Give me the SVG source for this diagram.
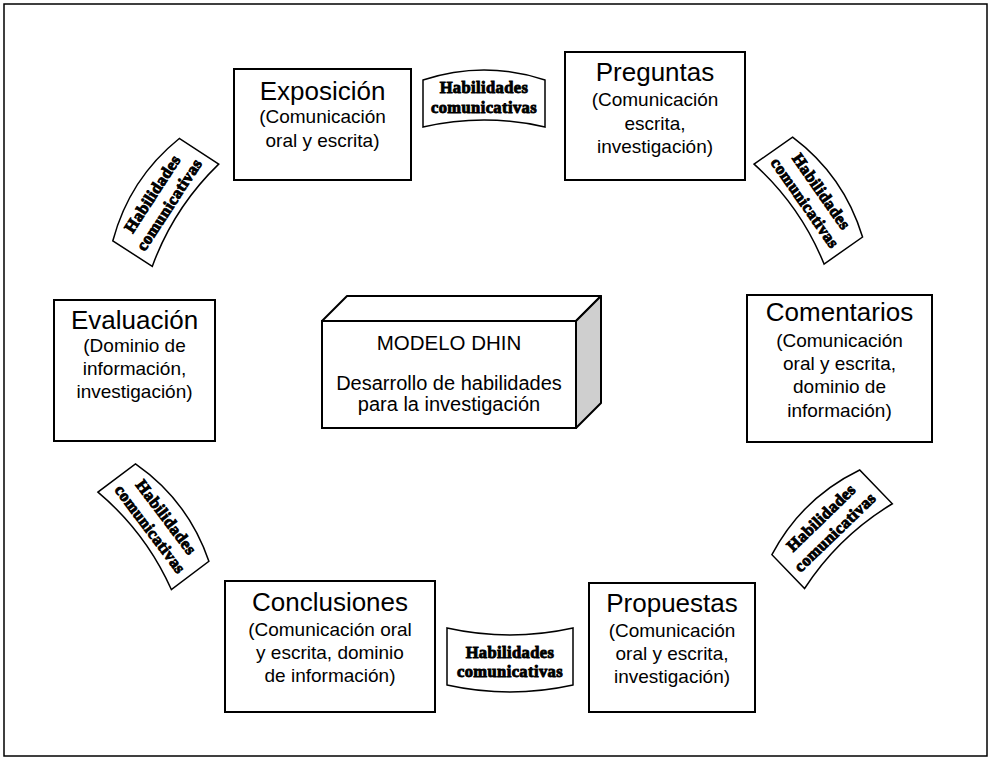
<svg xmlns="http://www.w3.org/2000/svg" width="991" height="760" viewBox="0 0 991 760">
<style>
.frame{fill:#fff;stroke:#000;stroke-width:1.5}
.box{fill:#fff;stroke:#000;stroke-width:2}
.t{font-family:"Liberation Sans",Arial,sans-serif;text-anchor:middle;fill:#000}
.title{font-size:26px}
.sub{font-size:19px}
.ban{fill:#fff;stroke:#000;stroke-width:1.5}
.bt{font-family:"Liberation Serif","Times New Roman",serif;font-weight:bold;font-size:16.5px;text-anchor:middle;fill:#000;stroke:#000;stroke-width:0.9;letter-spacing:0.4px}
</style>
<defs>
<path id="wave" d="M -61,-19 Q 0,-39 61,-19 L 61,28 Q 0,14 -61,28 Z"/>
</defs>
<rect class="frame" x="4" y="4" width="983" height="752"/>

<g id="links">
  <g id="banner-top" transform="translate(484,99)">
    <use href="#wave" class="ban"/>
    <text class="bt" y="-6">Habilidades</text>
    <text class="bt" y="14">comunicativas</text>
  </g>
  <g id="banner-left-top" transform="translate(162,200) rotate(-57)">
    <use href="#wave" class="ban"/>
    <text class="bt" y="-6">Habilidades</text>
    <text class="bt" y="14">comunicativas</text>
  </g>
  <g id="banner-right-top" transform="translate(812,198) rotate(55)">
    <use href="#wave" class="ban"/>
    <text class="bt" y="-6">Habilidades</text>
    <text class="bt" y="14">comunicativas</text>
  </g>
  <g id="banner-left-bottom" transform="translate(157,524) rotate(53)">
    <use href="#wave" class="ban"/>
    <text class="bt" y="-6">Habilidades</text>
    <text class="bt" y="14">comunicativas</text>
  </g>
  <g id="banner-right-bottom" transform="translate(829,526) rotate(-44)">
    <use href="#wave" class="ban"/>
    <text class="bt" y="-6">Habilidades</text>
    <text class="bt" y="14">comunicativas</text>
  </g>
  <g id="banner-bottom" transform="translate(510,658)">
    <path class="ban" d="M -63,-30 Q 0,-16 63,-30 L 63,27 Q 0,41 -63,27 Z"/>
    <text class="bt" y="0">Habilidades</text>
    <text class="bt" y="19">comunicativas</text>
  </g>
</g>

<g id="exposicion">
  <rect class="box" x="234" y="69" width="177" height="111"/>
  <text class="t title" x="322.5" y="100">Exposición</text>
  <text class="t sub" x="322.5" y="123">(Comunicación</text>
  <text class="t sub" x="322.5" y="147">oral y escrita)</text>
</g>

<g id="preguntas">
  <rect class="box" x="565" y="52" width="180" height="128"/>
  <text class="t title" x="655" y="81">Preguntas</text>
  <text class="t sub" x="655" y="106">(Comunicación</text>
  <text class="t sub" x="655" y="130">escrita,</text>
  <text class="t sub" x="655" y="153">investigación)</text>
</g>

<g id="evaluacion">
  <rect class="box" x="54" y="300" width="161" height="141"/>
  <text class="t title" x="134.5" y="329">Evaluación</text>
  <text class="t sub" x="134.5" y="352">(Dominio de</text>
  <text class="t sub" x="134.5" y="375">información,</text>
  <text class="t sub" x="134.5" y="398">investigación)</text>
</g>

<g id="comentarios">
  <rect class="box" x="747" y="295" width="185" height="147"/>
  <text class="t title" x="839.5" y="321">Comentarios</text>
  <text class="t sub" x="839.5" y="347">(Comunicación</text>
  <text class="t sub" x="839.5" y="370">oral y escrita,</text>
  <text class="t sub" x="839.5" y="393">dominio de</text>
  <text class="t sub" x="839.5" y="417">información)</text>
</g>

<g id="conclusiones">
  <rect class="box" x="225" y="581" width="210" height="131"/>
  <text class="t title" x="330" y="611">Conclusiones</text>
  <text class="t sub" x="330" y="636">(Comunicación oral</text>
  <text class="t sub" x="330" y="659">y escrita, dominio</text>
  <text class="t sub" x="330" y="682">de información)</text>
</g>

<g id="propuestas">
  <rect class="box" x="589" y="583" width="166" height="129"/>
  <text class="t title" x="672" y="612">Propuestas</text>
  <text class="t sub" x="672" y="637">(Comunicación</text>
  <text class="t sub" x="672" y="660">oral y escrita,</text>
  <text class="t sub" x="672" y="683">investigación)</text>
</g>

<g id="modelo-dhin">
  <polygon points="322,321 347,296 601,296 576,321" fill="#fff" stroke="#000" stroke-width="2" stroke-linejoin="round"/>
  <polygon points="576,321 601,296 601,403 576,428" fill="#cfcfcf" stroke="#000" stroke-width="2" stroke-linejoin="round"/>
  <rect x="322" y="321" width="254" height="107" fill="#fff" stroke="#000" stroke-width="2"/>
  <text class="t" x="449" y="350" font-size="20.5">MODELO DHIN</text>
  <text class="t" x="449" y="390" font-size="20">Desarrollo de habilidades</text>
  <text class="t" x="449" y="411" font-size="20">para la investigación</text>
</g>
</svg>
